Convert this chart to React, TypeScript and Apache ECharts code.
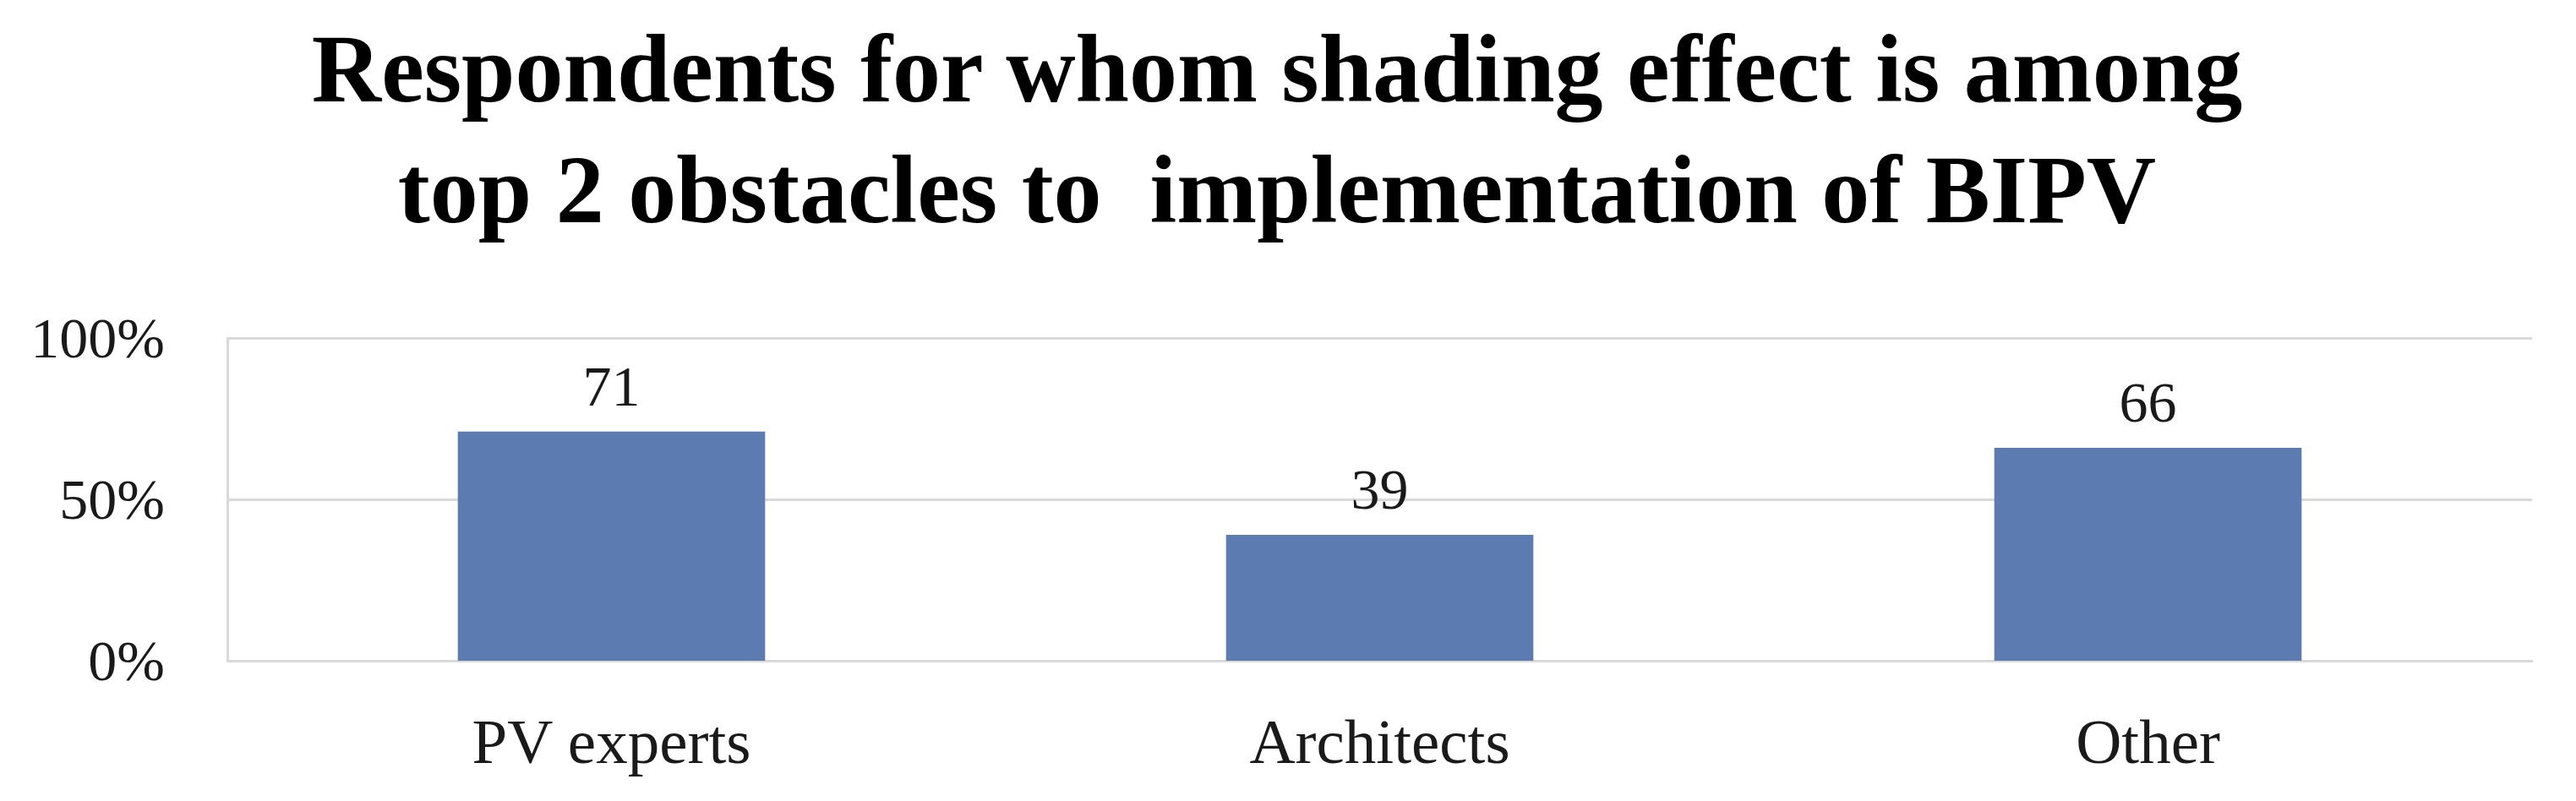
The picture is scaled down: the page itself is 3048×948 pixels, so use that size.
import React, { useEffect, useRef } from "react";
import * as echarts from "echarts";

const categories = ["PV experts", "Architects", "Other"];
const values = [71, 39, 66];
const yTicks = { min: 0, max: 100, interval: 50 };
const titleLines = [
  "Respondents for whom shading effect is among",
  "top 2 obstacles to  implementation of BIPV",
];

export default function App() {
  const ref = useRef<HTMLDivElement>(null);
  useEffect(() => {
    if (!ref.current) return;
    const chart = echarts.init(ref.current, undefined, { renderer: "svg" });
    const font = "'Liberation Serif', 'Times New Roman', serif";
    chart.setOption({
      animation: false,
      backgroundColor: "#ffffff",
      title: {
        text: titleLines.join("\n"),
        left: 1511,
        textAlign: "center",
        top: 10,
        padding: 0,
        textStyle: {
          fontFamily: font,
          fontWeight: "bold",
          fontSize: 114,
          lineHeight: 143,
          color: "#000000",
        },
      },
      grid: {
        left: 269,
        right: 52,
        top: 400,
        bottom: 166,
        containLabel: false,
        outerBoundsMode: "none",
      },
      xAxis: {
        type: "category",
        data: categories,
        axisLine: { show: true, lineStyle: { color: "#d9d9d9", width: 3 } },
        axisTick: { show: false },
        axisLabel: {
          margin: 58,
          fontFamily: font,
          fontSize: 75,
          color: "#1a1a1a",
        },
      },
      yAxis: {
        type: "value",
        min: yTicks.min,
        max: yTicks.max,
        interval: yTicks.interval,
        axisLine: { show: true, lineStyle: { color: "#d9d9d9", width: 3 } },
        axisTick: { show: false },
        splitLine: { show: true, lineStyle: { color: "#d9d9d9", width: 3 } },
        axisLabel: {
          margin: 74,
          fontFamily: font,
          fontSize: 68,
          color: "#1a1a1a",
          formatter: "{value}%",
        },
      },
      series: [
        {
          type: "bar",
          data: values,
          barWidth: "40%",
          itemStyle: { color: "#5b7bb1" },
          label: {
            show: true,
            position: "top",
            distance: 20,
            fontFamily: font,
            fontSize: 68,
            color: "#1a1a1a",
          },
        },
      ],
    });
    return () => chart.dispose();
  }, []);
  return (
    <div
      ref={ref}
      style={{ position: "fixed", left: 0, top: 0, width: 3048, height: 948 }}
    />
  );
}
